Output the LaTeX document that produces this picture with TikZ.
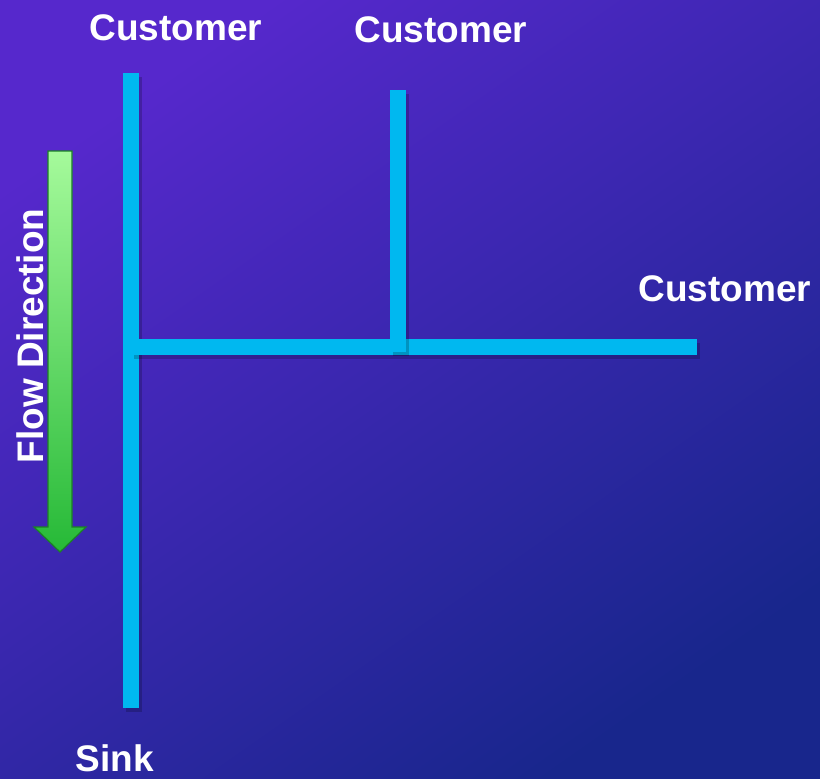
\documentclass[tikz,border=0pt]{standalone}
\usepackage{fontspec}
\setmainfont{Liberation Sans}
\usetikzlibrary{positioning}
\definecolor{bgtop}{RGB}{86,40,204}
\definecolor{bgbot}{RGB}{24,38,140}
\definecolor{pipecol}{RGB}{0,184,240}
\definecolor{flowtop}{RGB}{165,250,155}
\definecolor{flowbot}{RGB}{38,185,55}
\begin{document}
\begin{tikzpicture}[x=1pt,y=-1pt,
    pipe/.style={draw=pipecol,line width=16pt},
    pipeshadow/.style={draw=black,opacity=0.2,line width=16pt,transform canvas={shift={(3pt,-4pt)}}},
    label/.style={text=white,font=\bfseries\fontsize{37}{37}\selectfont}]
        \useasboundingbox (0,0) rectangle (820,779);
        \shade[top color=bgtop,bottom color=bgbot,shading angle=35] (0,0) rectangle (820,779);

        % flow arrow
        \shade[top color=flowtop,bottom color=flowbot,draw=flowbot!70!black,line width=1.2pt]
          (48,151) -- (72,151) -- (72,527) -- (86,527) -- (60,552) -- (34,527) -- (48,527) -- cycle;
        \node[label,rotate=90] (flow) at (30,336) {Flow Direction};

        % pipes
        \coordinate (top1) at (131,73);
        \coordinate (bot) at (131,708);
        \coordinate (tee1) at (131,347);
        \coordinate (end3) at (697,347);
        \coordinate (top2) at (398,90);
        \coordinate (tee2) at (398,352);

        \draw[pipeshadow] (top1) -- (bot);
        \draw[pipe] (top1) -- (bot);
        \draw[pipeshadow] (tee1) -- (end3);
        \draw[pipe] (tee1) -- (end3);
        \draw[pipeshadow] (top2) -- (tee2);
        \draw[pipe] (top2) -- (tee2);

        \node[label] (cust1) at (176,28) {Customer};
        \node[label] (cust2) at (441,30) {Customer};
        \node[label] (cust3) at (725,289) {Customer};
        \node[label] (sink) at (115,758) {Sink};
      \end{tikzpicture}
\end{document}
